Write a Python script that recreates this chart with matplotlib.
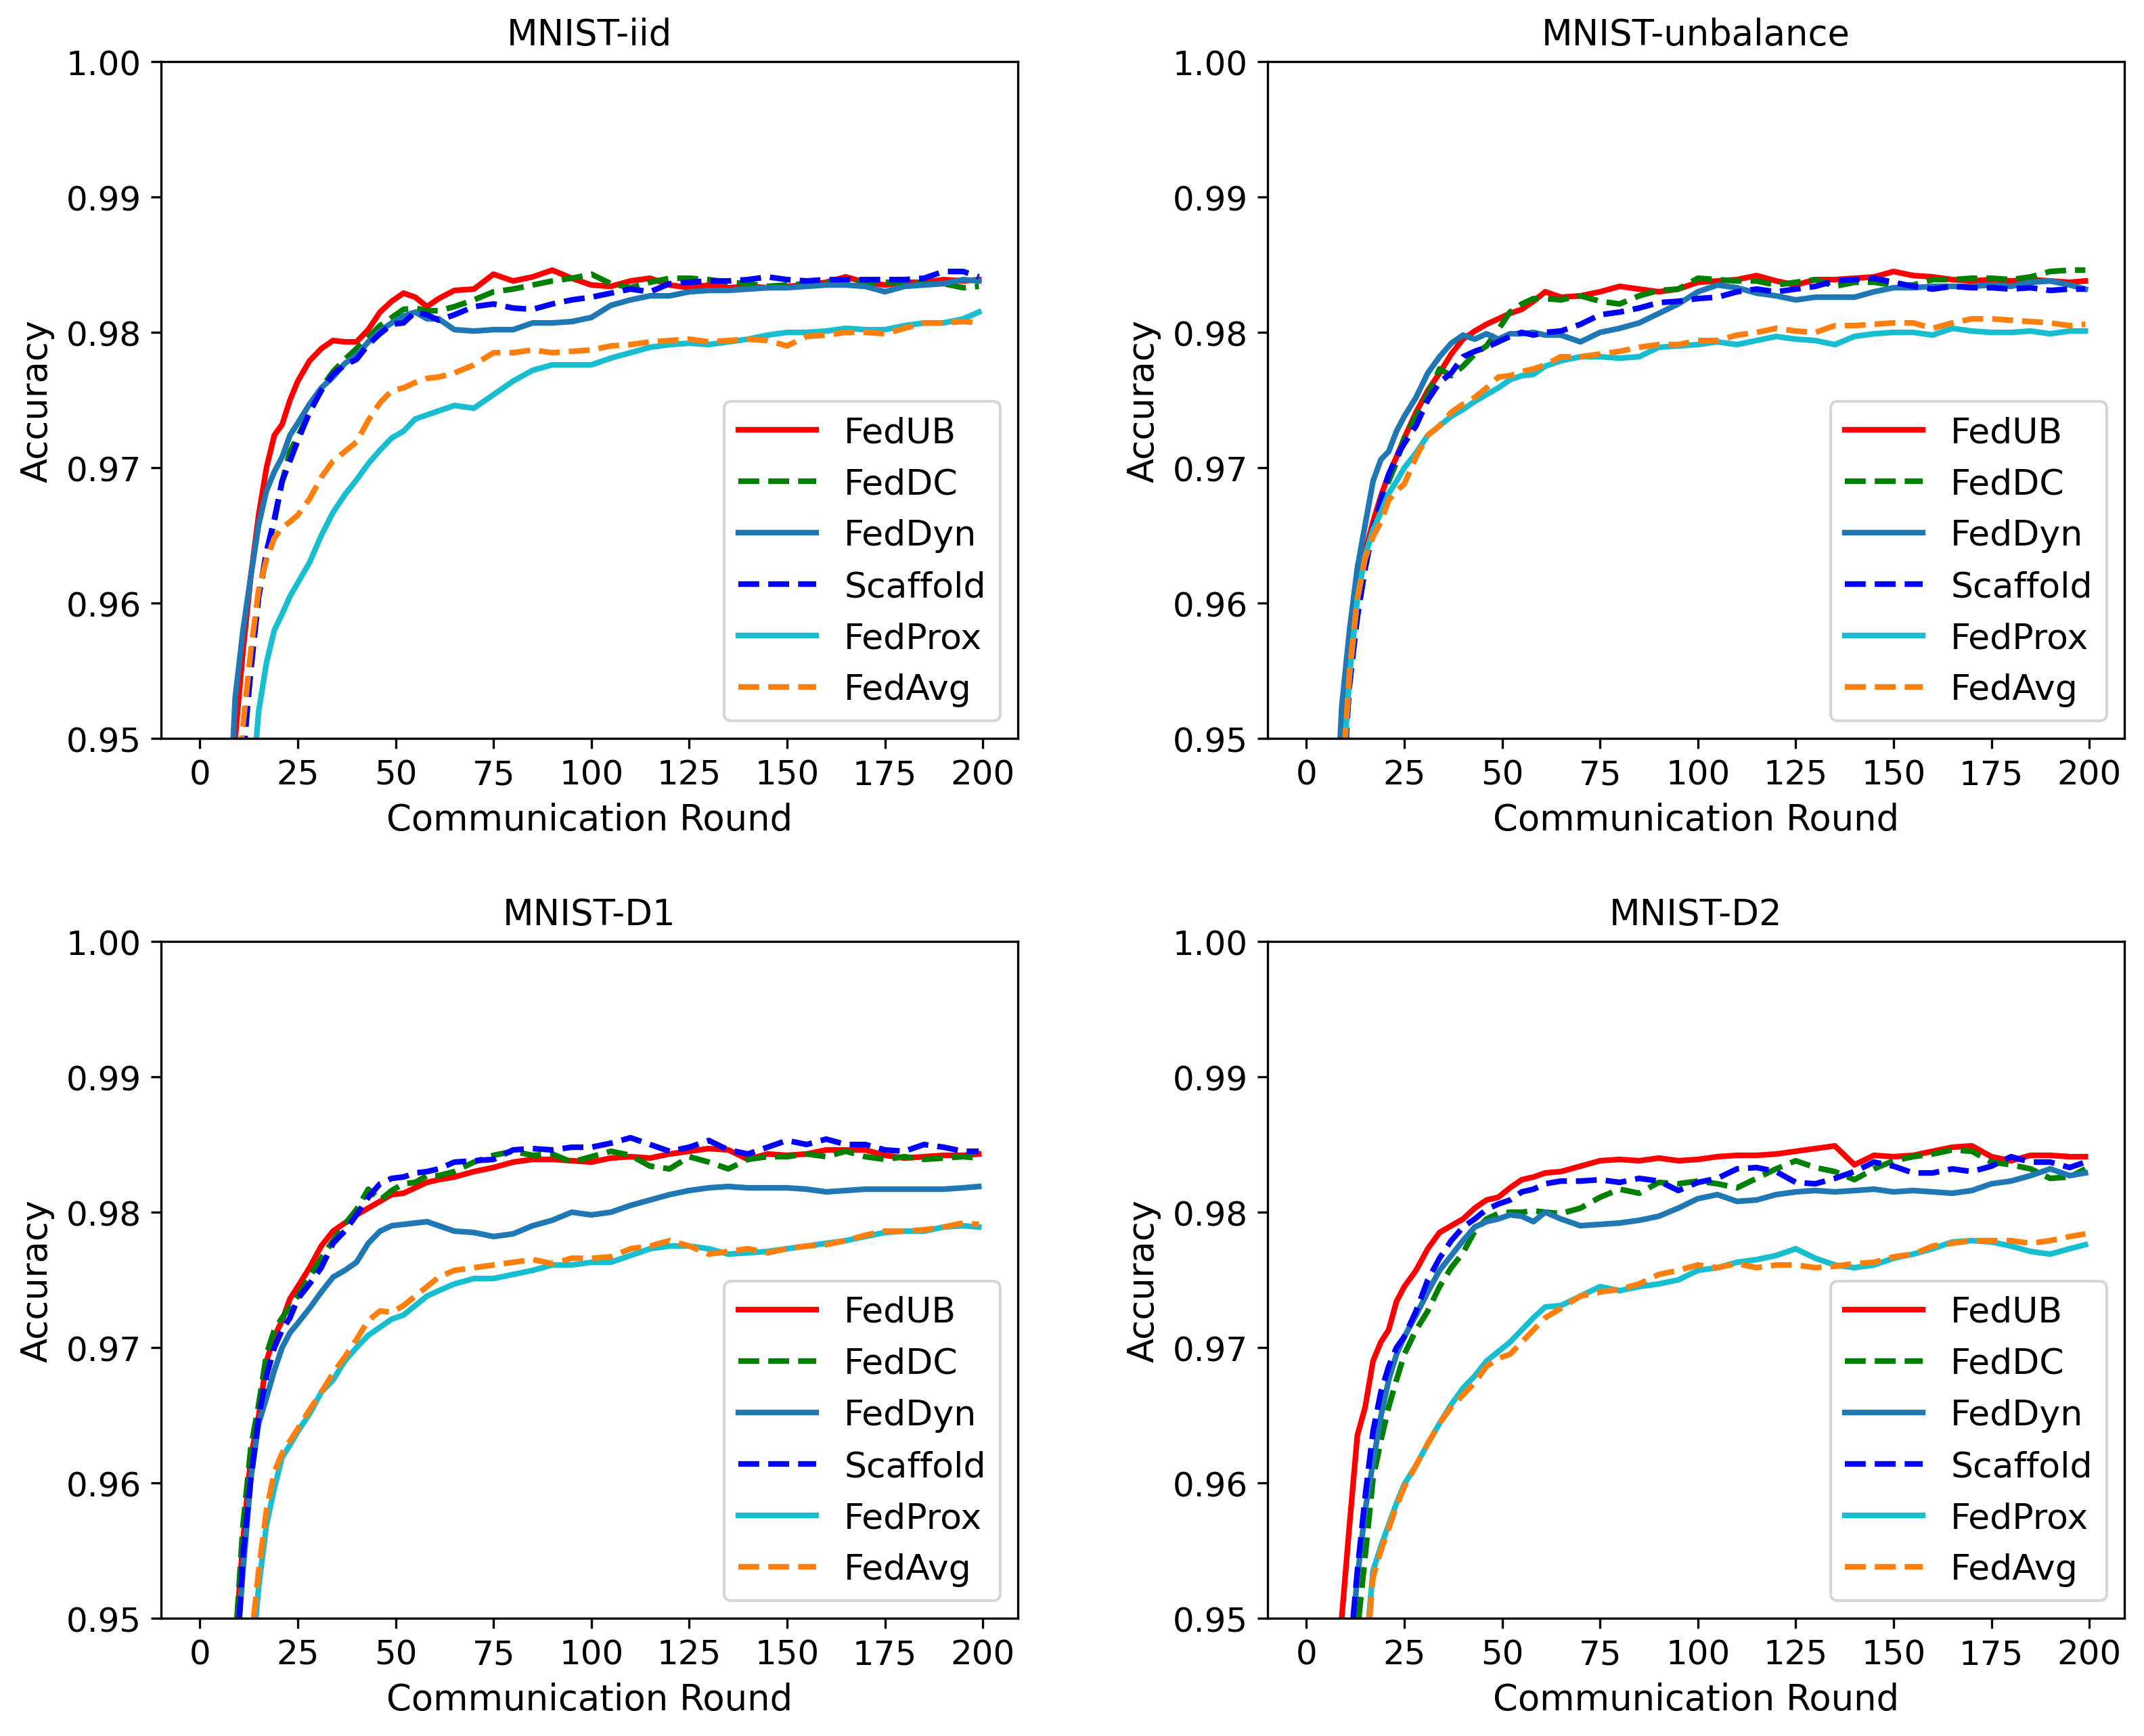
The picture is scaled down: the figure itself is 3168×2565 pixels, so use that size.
import matplotlib
matplotlib.use('Agg')
import matplotlib.pyplot as plt

plt.rcParams['font.family'] = ['DejaVu Sans']
plt.rcParams['font.size'] = 12

ROUNDS = [6, 9, 11, 13, 15, 17, 19, 21, 23, 25,
          28, 31, 34, 37, 40, 43, 46, 49, 52, 55,
          58, 61, 65, 70, 75, 80, 85, 90, 95, 100,
          105, 110, 115, 120, 125, 130, 135, 140, 145, 150,
          155, 160, 165, 170, 175, 180, 185, 190, 195, 199]

METHODS = ['FedUB', 'FedDC', 'FedDyn', 'Scaffold', 'FedProx', 'FedAvg']
TITLES = ['MNIST-iid', 'MNIST-unbalance', 'MNIST-D1', 'MNIST-D2']

# ---------------- MNIST-iid ----------------
IID_FEDUB = [0.930, 0.950, 0.9565, 0.962, 0.9665, 0.970, 0.9724, 0.9732, 0.975, 0.9764,
             0.9779, 0.9788, 0.9794, 0.9793, 0.9793, 0.9802, 0.9815, 0.9823, 0.9829, 0.9826,
             0.9819, 0.9825, 0.9831, 0.9832, 0.9843, 0.9838, 0.9841, 0.9846, 0.9840, 0.9835,
             0.9834, 0.9838, 0.9840, 0.9835, 0.9833, 0.9835, 0.9833, 0.9834, 0.9833, 0.9834,
             0.9835, 0.9837, 0.9841, 0.9837, 0.9835, 0.9837, 0.9837, 0.9839, 0.9838, 0.9839]
IID_FEDDC = [0.920, 0.940, 0.948, 0.9555, 0.9605, 0.9635, 0.966, 0.969, 0.9712, 0.9723,
             0.9741, 0.9759, 0.9771, 0.9780, 0.9788, 0.9796, 0.9805, 0.9811, 0.9817, 0.9818,
             0.9816, 0.9816, 0.9819, 0.9824, 0.9830, 0.9832, 0.9835, 0.9838, 0.9840, 0.9843,
             0.9836, 0.9833, 0.9837, 0.9840, 0.9840, 0.9839, 0.9837, 0.9836, 0.9834, 0.9835,
             0.9836, 0.9837, 0.9838, 0.9837, 0.9837, 0.9837, 0.9836, 0.9836, 0.9833, 0.9834]
IID_FEDDYN = [0.935, 0.953, 0.958, 0.962, 0.9658, 0.9683, 0.9697, 0.9708, 0.9724, 0.9733,
              0.9747, 0.9759, 0.9767, 0.9777, 0.9783, 0.9793, 0.9801, 0.9807, 0.9812, 0.9815,
              0.9810, 0.9810, 0.9802, 0.9801, 0.9802, 0.9802, 0.9807, 0.9807, 0.9808, 0.9811,
              0.9820, 0.9824, 0.9827, 0.9827, 0.9830, 0.9831, 0.9831, 0.9832, 0.9833, 0.9833,
              0.9834, 0.9835, 0.9835, 0.9834, 0.9830, 0.9834, 0.9835, 0.9836, 0.9839, 0.9838]
IID_SCAFFOLD = [0.920, 0.940, 0.949, 0.955, 0.9605, 0.9638, 0.9662, 0.969, 0.9705, 0.972,
                0.9741, 0.9757, 0.9769, 0.9776, 0.9780, 0.9791, 0.9799, 0.9806, 0.9807, 0.9815,
                0.9813, 0.9809, 0.9813, 0.9819, 0.9821, 0.9818, 0.9817, 0.9821, 0.9824, 0.9826,
                0.9829, 0.9832, 0.9830, 0.9836, 0.9837, 0.9838, 0.9838, 0.9839, 0.9841, 0.9839,
                0.9838, 0.9839, 0.9839, 0.9839, 0.9839, 0.9839, 0.9840, 0.9845, 0.9845, 0.9841]
IID_FEDPROX = [0.900, 0.925, 0.935, 0.945, 0.952, 0.9556, 0.958, 0.9592, 0.9605, 0.9615,
               0.9630, 0.9650, 0.9667, 0.9680, 0.9691, 0.9703, 0.9713, 0.9722, 0.9727, 0.9736,
               0.9739, 0.9742, 0.9746, 0.9744, 0.9754, 0.9764, 0.9772, 0.9776, 0.9776, 0.9776,
               0.9781, 0.9785, 0.9789, 0.9791, 0.9792, 0.9791, 0.9793, 0.9795, 0.9798, 0.9800,
               0.9800, 0.9801, 0.9803, 0.9802, 0.9802, 0.9805, 0.9807, 0.9807, 0.9810, 0.9815]
IID_FEDAVG = [0.920, 0.945, 0.951, 0.9565, 0.961, 0.9632, 0.9648, 0.9656, 0.966, 0.9665,
              0.9677, 0.9693, 0.9705, 0.9712, 0.9719, 0.9735, 0.9748, 0.9757, 0.9759, 0.9763,
              0.9766, 0.9767, 0.9770, 0.9776, 0.9785, 0.9785, 0.9787, 0.9785, 0.9786, 0.9787,
              0.9790, 0.9791, 0.9793, 0.9794, 0.9795, 0.9793, 0.9794, 0.9795, 0.9794, 0.9790,
              0.9797, 0.9798, 0.9800, 0.9800, 0.9799, 0.9803, 0.9807, 0.9807, 0.9808, 0.9807]

# ---------------- MNIST-unbalance ----------------
UNB_FEDUB = [0.930, 0.948, 0.9557, 0.9608, 0.9638, 0.966, 0.9679, 0.9695, 0.9708, 0.9722,
             0.9741, 0.9757, 0.9770, 0.9784, 0.9795, 0.9801, 0.9806, 0.9810, 0.9814, 0.9817,
             0.9823, 0.9830, 0.9826, 0.9827, 0.9830, 0.9834, 0.9832, 0.9830, 0.9832, 0.9837,
             0.9838, 0.9839, 0.9842, 0.9838, 0.9835, 0.9839, 0.9839, 0.9840, 0.9841, 0.9845,
             0.9842, 0.9841, 0.9839, 0.9838, 0.9839, 0.9838, 0.9839, 0.9838, 0.9837, 0.9838]
UNB_FEDDC = [0.925, 0.943, 0.9546, 0.959, 0.9626, 0.9654, 0.9674, 0.969, 0.9704, 0.9722,
             0.9738, 0.9754, 0.9773, 0.9768, 0.9775, 0.9784, 0.9790, 0.9802, 0.9815, 0.9821,
             0.9825, 0.9825, 0.9824, 0.9827, 0.9823, 0.9821, 0.9827, 0.9831, 0.9832, 0.9840,
             0.9839, 0.9838, 0.9838, 0.9835, 0.9837, 0.9839, 0.9834, 0.9837, 0.9837, 0.9835,
             0.9835, 0.9839, 0.9839, 0.9840, 0.9840, 0.9839, 0.9841, 0.9845, 0.9846, 0.9846]
UNB_FEDDYN = [0.935, 0.9523, 0.958, 0.9626, 0.9658, 0.969, 0.9706, 0.9712, 0.9727, 0.9738,
              0.9752, 0.9770, 0.9782, 0.9792, 0.9798, 0.9795, 0.9799, 0.9795, 0.9799, 0.9799,
              0.9800, 0.9798, 0.9798, 0.9793, 0.9800, 0.9803, 0.9807, 0.9814, 0.9821, 0.9830,
              0.9835, 0.9833, 0.9829, 0.9827, 0.9824, 0.9826, 0.9826, 0.9826, 0.9830, 0.9833,
              0.9833, 0.9834, 0.9834, 0.9834, 0.9835, 0.9834, 0.9837, 0.9838, 0.9835, 0.9832]
UNB_SCAFFOLD = [0.925, 0.946, 0.9539, 0.959, 0.9626, 0.9654, 0.9676, 0.9695, 0.9708, 0.9718,
                0.9731, 0.9750, 0.9763, 0.9770, 0.9782, 0.9786, 0.9789, 0.9793, 0.9797, 0.9800,
                0.9798, 0.9800, 0.9801, 0.9806, 0.9813, 0.9815, 0.9818, 0.9822, 0.9823, 0.9825,
                0.9826, 0.9830, 0.9832, 0.9830, 0.9832, 0.9834, 0.9838, 0.9839, 0.9840, 0.9837,
                0.9834, 0.9832, 0.9834, 0.9833, 0.9833, 0.9832, 0.9833, 0.9831, 0.9832, 0.9832]
UNB_FEDPROX = [0.925, 0.946, 0.9546, 0.9603, 0.9635, 0.9654, 0.9667, 0.9681, 0.969, 0.970,
               0.9711, 0.9724, 0.9731, 0.9738, 0.9743, 0.9749, 0.9754, 0.9759, 0.9765, 0.9768,
               0.9769, 0.9775, 0.9779, 0.9782, 0.9782, 0.9781, 0.9782, 0.9789, 0.9790, 0.9791,
               0.9793, 0.9791, 0.9794, 0.9797, 0.9795, 0.9794, 0.9791, 0.9797, 0.9799, 0.9800,
               0.9800, 0.9798, 0.9803, 0.9801, 0.9800, 0.9800, 0.9801, 0.9799, 0.9801, 0.9801]
UNB_FEDAVG = [0.925, 0.946, 0.955, 0.9603, 0.9633, 0.9649, 0.966, 0.9676, 0.9683, 0.9688,
              0.9708, 0.9724, 0.9731, 0.9741, 0.9747, 0.9752, 0.9759, 0.9767, 0.9768, 0.9771,
              0.9773, 0.9776, 0.9782, 0.9782, 0.9784, 0.9786, 0.9789, 0.9791, 0.9791, 0.9794,
              0.9794, 0.9798, 0.9800, 0.9803, 0.9801, 0.9800, 0.9805, 0.9805, 0.9806, 0.9807,
              0.9807, 0.9803, 0.9807, 0.9810, 0.9810, 0.9809, 0.9808, 0.9807, 0.9805, 0.9806]

# ---------------- MNIST-D1 ----------------
D1_FEDUB = [0.925, 0.948, 0.9557, 0.9619, 0.9649, 0.969, 0.9708, 0.972, 0.9736, 0.9745,
            0.9759, 0.9775, 0.9786, 0.9792, 0.9798, 0.9803, 0.9808, 0.9813, 0.9814, 0.9818,
            0.9822, 0.9824, 0.9826, 0.9830, 0.9833, 0.9837, 0.9839, 0.9839, 0.9838, 0.9837,
            0.9840, 0.9841, 0.9840, 0.9843, 0.9845, 0.9847, 0.9846, 0.9839, 0.9843, 0.9842,
            0.9843, 0.9846, 0.9846, 0.9846, 0.9842, 0.9840, 0.9841, 0.9842, 0.9842, 0.9843]
D1_FEDDC = [0.925, 0.948, 0.9569, 0.9626, 0.9658, 0.9695, 0.9713, 0.9722, 0.973, 0.9738,
            0.9752, 0.9766, 0.9779, 0.9791, 0.9802, 0.9817, 0.9809, 0.9816, 0.9821, 0.9822,
            0.9827, 0.9827, 0.9830, 0.9837, 0.9842, 0.9845, 0.9842, 0.9843, 0.9837, 0.9841,
            0.9845, 0.9842, 0.9834, 0.9832, 0.9841, 0.9837, 0.9832, 0.9839, 0.9841, 0.9841,
            0.9843, 0.9841, 0.9845, 0.9841, 0.9839, 0.9841, 0.9839, 0.9840, 0.9841, 0.9840]
D1_FEDDYN = [0.925, 0.946, 0.9535, 0.9603, 0.9644, 0.9663, 0.9683, 0.970, 0.9711, 0.9718,
             0.9729, 0.9741, 0.9752, 0.9757, 0.9763, 0.9777, 0.9786, 0.9790, 0.9791, 0.9792,
             0.9793, 0.9790, 0.9786, 0.9785, 0.9782, 0.9784, 0.9790, 0.9794, 0.9800, 0.9798,
             0.9800, 0.9805, 0.9809, 0.9813, 0.9816, 0.9818, 0.9819, 0.9818, 0.9818, 0.9818,
             0.9817, 0.9815, 0.9816, 0.9817, 0.9817, 0.9817, 0.9817, 0.9817, 0.9818, 0.9819]
D1_SCAFFOLD = [0.925, 0.945, 0.9546, 0.9603, 0.9649, 0.9679, 0.970, 0.9713, 0.9722, 0.9736,
               0.9747, 0.9759, 0.9777, 0.9786, 0.9798, 0.9811, 0.9821, 0.9825, 0.9826, 0.9829,
               0.9830, 0.9832, 0.9837, 0.9838, 0.9839, 0.9846, 0.9847, 0.9846, 0.9848, 0.9848,
               0.9851, 0.9855, 0.9850, 0.9845, 0.9848, 0.9853, 0.9846, 0.9843, 0.9848, 0.9853,
               0.9850, 0.9854, 0.9850, 0.9850, 0.9846, 0.9845, 0.9850, 0.9848, 0.9845, 0.9845]
D1_FEDPROX = [0.900, 0.920, 0.935, 0.946, 0.9523, 0.9569, 0.9596, 0.9619, 0.9628, 0.9638,
              0.9651, 0.9667, 0.9676, 0.9690, 0.9700, 0.9709, 0.9715, 0.9721, 0.9724, 0.9731,
              0.9738, 0.9742, 0.9747, 0.9751, 0.9751, 0.9754, 0.9757, 0.9761, 0.9761, 0.9763,
              0.9763, 0.9768, 0.9773, 0.9775, 0.9775, 0.9773, 0.9769, 0.9770, 0.9771, 0.9773,
              0.9775, 0.9777, 0.9779, 0.9782, 0.9785, 0.9786, 0.9786, 0.9789, 0.9790, 0.9789]
D1_FEDAVG = [0.905, 0.925, 0.940, 0.948, 0.9535, 0.958, 0.9608, 0.9622, 0.9631, 0.964,
             0.9654, 0.9667, 0.9681, 0.9693, 0.9706, 0.9720, 0.9727, 0.9726, 0.9731, 0.9738,
             0.9745, 0.9752, 0.9757, 0.9759, 0.9761, 0.9763, 0.9765, 0.9762, 0.9766, 0.9766,
             0.9767, 0.9773, 0.9775, 0.9779, 0.9775, 0.9769, 0.9771, 0.9773, 0.9770, 0.9773,
             0.9775, 0.9776, 0.9779, 0.9783, 0.9786, 0.9786, 0.9787, 0.9789, 0.9792, 0.9791]

# ---------------- MNIST-D2 ----------------
D2_FEDUB = [0.930, 0.950, 0.9569, 0.9635, 0.9656, 0.969, 0.9704, 0.9713, 0.9734, 0.9745,
            0.9757, 0.9773, 0.9785, 0.9790, 0.9795, 0.9803, 0.9809, 0.9811, 0.9818, 0.9824,
            0.9826, 0.9829, 0.9830, 0.9834, 0.9838, 0.9839, 0.9838, 0.9840, 0.9838, 0.9839,
            0.9841, 0.9842, 0.9842, 0.9843, 0.9845, 0.9847, 0.9849, 0.9835, 0.9842, 0.9841,
            0.9842, 0.9845, 0.9848, 0.9849, 0.9841, 0.9838, 0.9842, 0.9842, 0.9841, 0.9841]
D2_FEDDC = [0.920, 0.935, 0.943, 0.949, 0.9546, 0.9603, 0.9631, 0.9656, 0.9676, 0.9695,
            0.9713, 0.9727, 0.9745, 0.9759, 0.9770, 0.9786, 0.9795, 0.9799, 0.9800, 0.9800,
            0.9801, 0.9800, 0.9799, 0.9803, 0.9811, 0.9817, 0.9814, 0.9822, 0.9821, 0.9823,
            0.9821, 0.9818, 0.9825, 0.9832, 0.9838, 0.9833, 0.9830, 0.9824, 0.9832, 0.9838,
            0.9841, 0.9843, 0.9846, 0.9845, 0.9837, 0.9835, 0.9832, 0.9825, 0.9826, 0.9832]
D2_FEDDYN = [0.925, 0.940, 0.947, 0.953, 0.958, 0.9615, 0.9649, 0.9676, 0.9695, 0.9708,
             0.9724, 0.9741, 0.9757, 0.9768, 0.9779, 0.9789, 0.9793, 0.9795, 0.9798, 0.9797,
             0.9793, 0.9800, 0.9795, 0.9790, 0.9791, 0.9792, 0.9794, 0.9797, 0.9803, 0.9810,
             0.9813, 0.9808, 0.9809, 0.9813, 0.9815, 0.9816, 0.9815, 0.9816, 0.9817, 0.9815,
             0.9816, 0.9815, 0.9814, 0.9816, 0.9821, 0.9823, 0.9827, 0.9832, 0.9827, 0.9829]
D2_SCAFFOLD = [0.925, 0.940, 0.947, 0.9535, 0.959, 0.9638, 0.9667, 0.9686, 0.970, 0.9708,
               0.9727, 0.9750, 0.9766, 0.9779, 0.9789, 0.9795, 0.9802, 0.9806, 0.9809, 0.9815,
               0.9817, 0.9821, 0.9823, 0.9823, 0.9824, 0.9822, 0.9825, 0.9823, 0.9816, 0.9822,
               0.9825, 0.9832, 0.9833, 0.9830, 0.9822, 0.9821, 0.9825, 0.9830, 0.9837, 0.9834,
               0.9829, 0.9829, 0.9832, 0.9830, 0.9834, 0.9841, 0.9837, 0.9837, 0.9833, 0.9837]
D2_FEDPROX = [0.900, 0.920, 0.930, 0.940, 0.947, 0.9535, 0.9553, 0.9569, 0.9585, 0.9599,
              0.9613, 0.9629, 0.9644, 0.9658, 0.9670, 0.9679, 0.9690, 0.9697, 0.9704, 0.9713,
              0.9722, 0.9730, 0.9731, 0.9738, 0.9745, 0.9742, 0.9745, 0.9747, 0.9750, 0.9757,
              0.9759, 0.9763, 0.9765, 0.9768, 0.9773, 0.9766, 0.9761, 0.9759, 0.9761, 0.9766,
              0.9769, 0.9773, 0.9778, 0.9779, 0.9778, 0.9775, 0.9771, 0.9769, 0.9773, 0.9776]
D2_FEDAVG = [0.900, 0.920, 0.930, 0.940, 0.946, 0.953, 0.955, 0.9566, 0.9583, 0.9597,
             0.9613, 0.9629, 0.9644, 0.9656, 0.9665, 0.9674, 0.9686, 0.9692, 0.9695, 0.9704,
             0.9713, 0.9722, 0.9729, 0.9738, 0.9741, 0.9743, 0.9747, 0.9754, 0.9757, 0.9761,
             0.9759, 0.9762, 0.9759, 0.9761, 0.9761, 0.9759, 0.9760, 0.9762, 0.9763, 0.9767,
             0.9769, 0.9775, 0.9777, 0.9779, 0.9779, 0.9779, 0.9777, 0.9779, 0.9782, 0.9784]

PANELS = [
    [IID_FEDUB, IID_FEDDC, IID_FEDDYN, IID_SCAFFOLD, IID_FEDPROX, IID_FEDAVG],
    [UNB_FEDUB, UNB_FEDDC, UNB_FEDDYN, UNB_SCAFFOLD, UNB_FEDPROX, UNB_FEDAVG],
    [D1_FEDUB, D1_FEDDC, D1_FEDDYN, D1_SCAFFOLD, D1_FEDPROX, D1_FEDAVG],
    [D2_FEDUB, D2_FEDDC, D2_FEDDYN, D2_SCAFFOLD, D2_FEDPROX, D2_FEDAVG],
]

# line style per method
STYLES = [
    ('red', '-'),
    ('green', '--'),
    ('#1f77b4', '-'),
    ('blue', '--'),
    ('#17becf', '-'),
    ('#ff7f0e', '--'),
]

# axes rectangles [left, bottom, width, height] in figure fraction
AX_W, AX_H = 0.3996, 0.3897
POSITIONS = [
    [0.0751, 0.5744, AX_W, AX_H],
    [0.5912, 0.5744, AX_W, AX_H],
    [0.0751, 0.0678, AX_W, AX_H],
    [0.5912, 0.0678, AX_W, AX_H],
]

LABEL_SIZE = 12.7

fig = plt.figure(figsize=(10.56, 8.5533), dpi=300)

for pos, title, series in zip(POSITIONS, TITLES, PANELS):
    ax = fig.add_axes(pos)
    for name, vals, (color, ls) in zip(METHODS, series, STYLES):
        ax.plot(ROUNDS, vals, color=color, linestyle=ls, linewidth=2, label=name)
    ax.set_xlim(-9.95, 208.95)
    ax.set_ylim(0.95, 1.00)
    ax.set_xticks([0, 25, 50, 75, 100, 125, 150, 175, 200])
    ax.set_yticks([0.95, 0.96, 0.97, 0.98, 0.99, 1.00])
    ax.set_yticklabels(['0.95', '0.96', '0.97', '0.98', '0.99', '1.00'])
    ax.set_title(title, fontsize=LABEL_SIZE)
    ax.set_xlabel('Communication Round', fontsize=LABEL_SIZE)
    ax.set_ylabel('Accuracy', fontsize=LABEL_SIZE)
    ax.legend(loc='lower right', fontsize=12.5, handlelength=2.2)

fig.savefig('out.png', dpi=300, facecolor='white')
plt.close(fig)
